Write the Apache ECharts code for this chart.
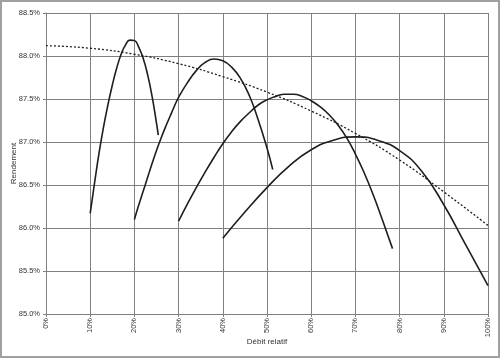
<!DOCTYPE html>
<html>
<head>
<meta charset="utf-8">
<script src="https://cdn.jsdelivr.net/npm/echarts@6/dist/echarts.min.js"></script>
<style>
html,body{margin:0;padding:0;background:#fff;}
#c{width:500px;height:358px;}
</style>
</head>
<body>
<div id="c"></div>
<script>
// Débit relatif (%) and Rendement (%) for each curve
const xA = [10,11,12,13,14,15,16,17,18,19,20,21,22,23,24,25,25.4];
const yA = [86.17,86.53,86.87,87.17,87.43,87.66,87.86,88.02,88.13,88.185,88.18,88.1,87.97,87.78,87.53,87.22,87.08];

const xB = [20,21,22,23,24,25,26,27,28,29,30,32,34,36,38,40,42,44,46,48,50,51.3];
const yB = [86.10,86.27,86.43,86.59,86.75,86.9,87.04,87.17,87.29,87.41,87.52,87.69,87.83,87.925,87.965,87.945,87.87,87.74,87.54,87.26,86.93,86.68];

const xC = [30,32,34,36,38,40,42,44,46,48,50,52,54,56,58,60,62,64,66,68,70,72,74,76,78.4];
const yC = [86.08,86.28,86.47,86.65,86.82,86.98,87.12,87.24,87.34,87.43,87.49,87.53,87.555,87.555,87.53,87.48,87.41,87.32,87.2,87.05,86.86,86.64,86.39,86.11,85.76];

const xD = [40,45,50,55,60,65,70,75,80,85,90,95,100];
const yD = [85.88,86.185,86.47,86.72,86.91,87.02,87.06,87.02,86.9,86.66,86.27,85.8,85.33];

const xE = [0,10,20,30,40,50,60,70,80,90,100];
const yE = [88.12,88.09,88.02,87.91,87.76,87.58,87.36,87.1,86.79,86.42,86.03];

const xName = 'Débit relatif';
const yName = 'Rendement';

function pairs(xs, ys){ return xs.map((x,i)=>[x, ys[i]]); }

const chart = echarts.init(document.getElementById('c'), null, {renderer:'canvas'});
const FONT = 'Liberation Sans, Arial, sans-serif';
const gridColor = '#808080';
const curveStyle = {color:'#1e1e1e', width:1.6};

function solid(name, xs, ys){
  return {name, type:'line', data:pairs(xs,ys), smooth:0.5, symbol:'none',
    lineStyle:curveStyle, itemStyle:{color:'#1e1e1e'}, silent:true};
}

chart.setOption({
  animation:false,
  backgroundColor:'#fff',
  grid:{left:46, right:12, top:13, bottom:44, containLabel:false, outerBoundsMode:'none'},
  graphic:[{type:'rect', shape:{x:1,y:1,width:498,height:356}, style:{fill:'none', stroke:'#a0a0a0', lineWidth:2}, silent:true}],
  xAxis:{
    type:'value', min:0, max:100, interval:10,
    name:xName, nameLocation:'middle', nameGap:24, nameMoveOverlap:false,
    nameTextStyle:{fontFamily:FONT, fontSize:8, color:'#333'},
    axisLine:{show:true, lineStyle:{color:gridColor, width:1}},
    axisTick:{show:true, length:3, lineStyle:{color:gridColor}},
    axisLabel:{rotate:90, fontFamily:FONT, fontSize:7.5, color:'#333', margin:4, formatter:v=>v+'%'},
    splitLine:{show:true, lineStyle:{color:gridColor, width:1}}
  },
  yAxis:{
    type:'value', min:85, max:88.5, interval:0.5,
    name:yName, nameLocation:'middle', nameGap:28, nameRotate:90, nameMoveOverlap:false,
    nameTextStyle:{fontFamily:FONT, fontSize:8, color:'#333'},
    axisLine:{show:true, lineStyle:{color:gridColor, width:1}},
    axisTick:{show:true, length:3, lineStyle:{color:gridColor}},
    axisLabel:{fontFamily:FONT, fontSize:7.5, color:'#333', margin:6, formatter:v=>v.toFixed(1)+'%'},
    splitLine:{show:true, lineStyle:{color:gridColor, width:1}}
  },
  series:[
    solid('A', xA, yA),
    solid('B', xB, yB),
    solid('C', xC, yC),
    solid('D', xD, yD),
    {name:'E', type:'line', data:pairs(xE,yE), smooth:0.5, symbol:'none',
      lineStyle:{color:'#1e1e1e', width:1.3, type:[2,2]}, silent:true}
  ]
});
</script>
</body>
</html>
